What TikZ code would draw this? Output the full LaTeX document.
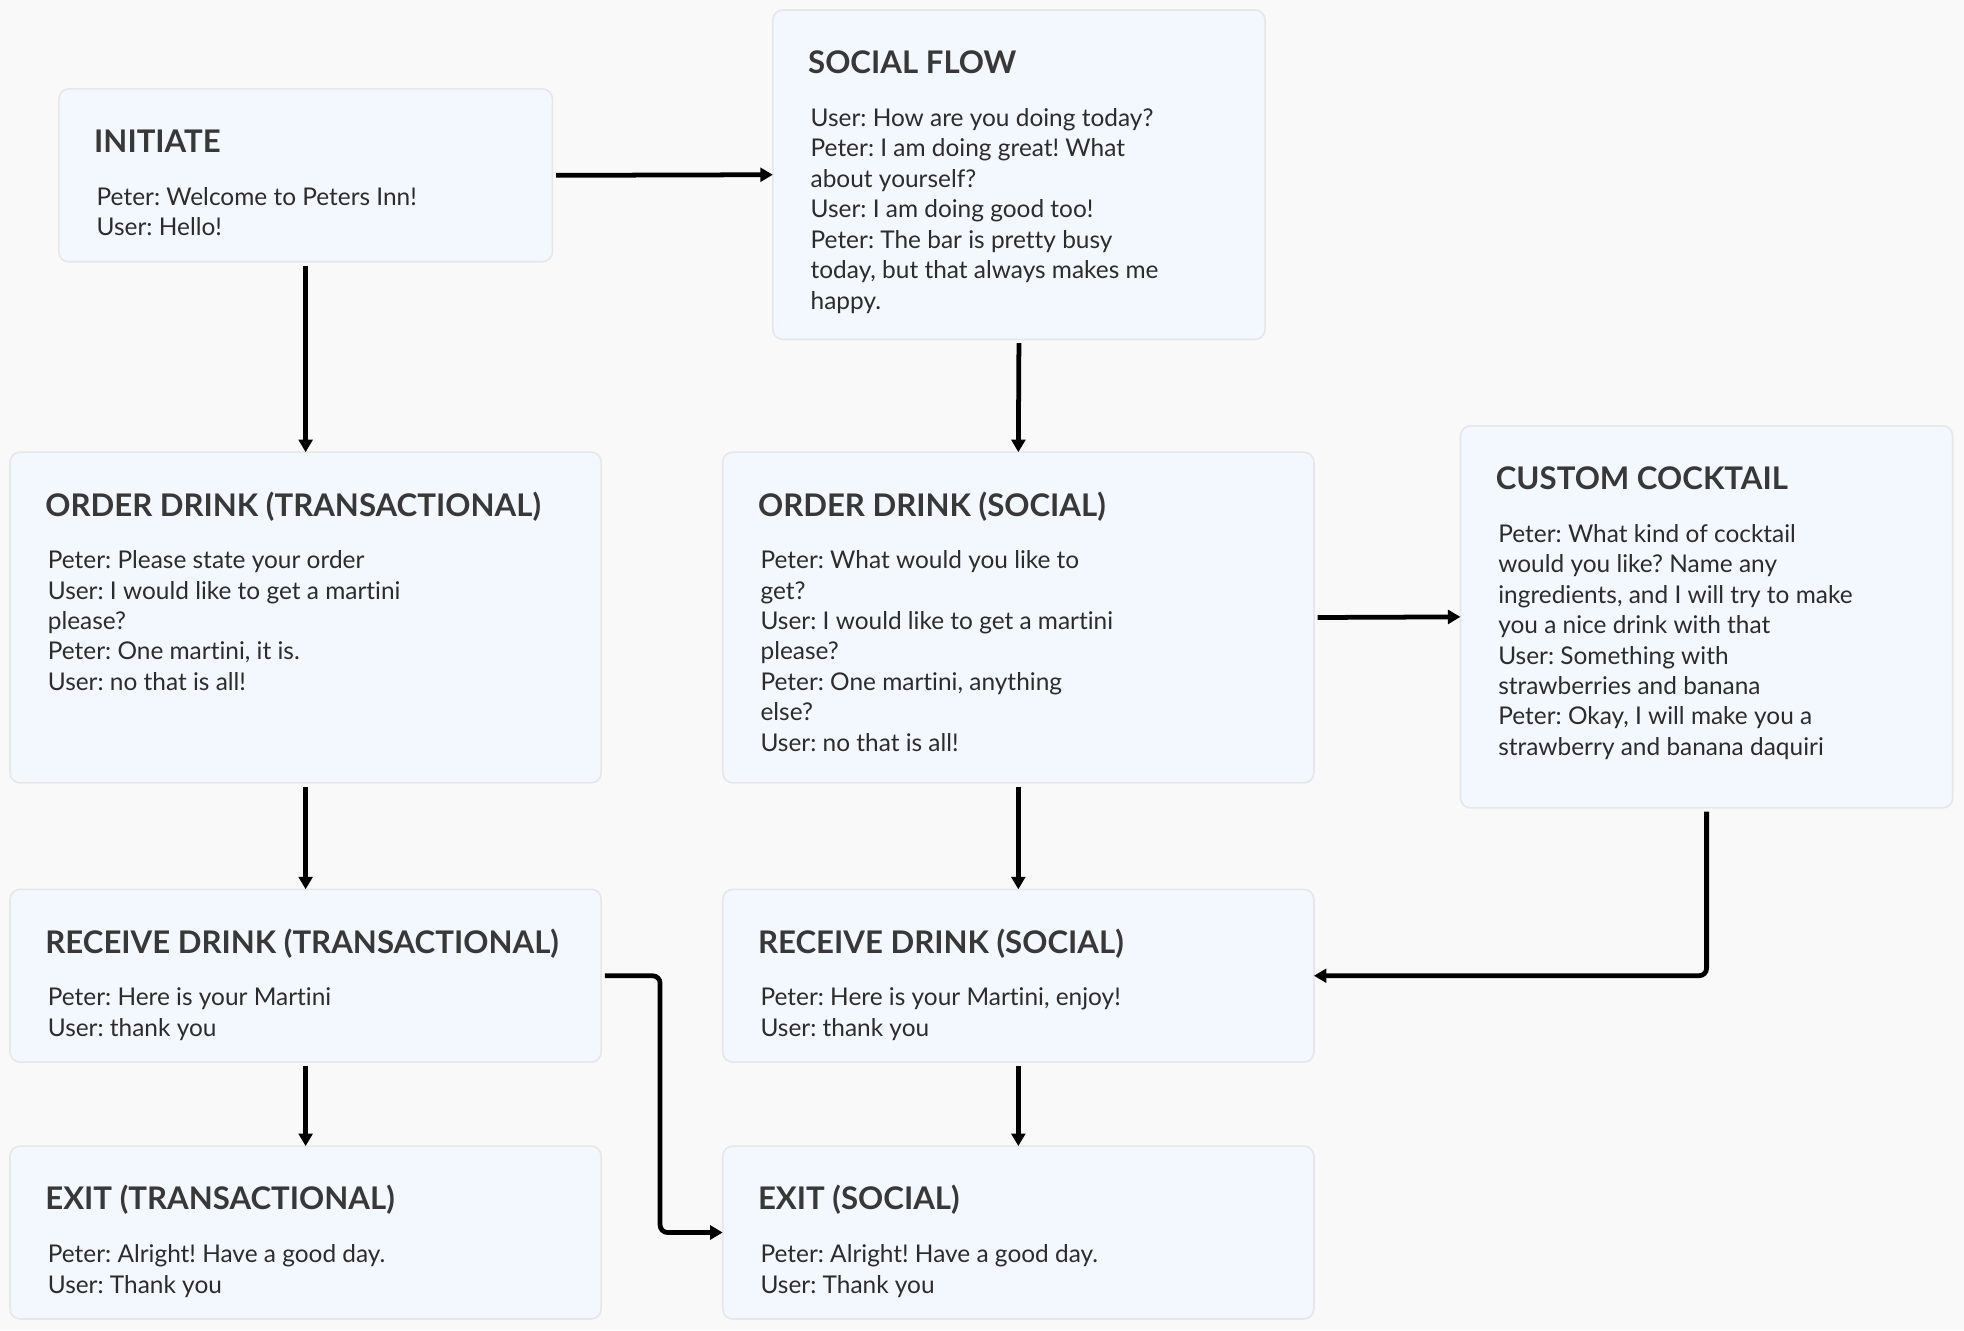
\documentclass[tikz,border=0pt]{standalone}
\usepackage{fontspec}
\setmainfont{Lato}[Ligatures=NoCommon]
\usetikzlibrary{arrows.meta}
\definecolor{bgcol}{HTML}{F9F9F9}
\definecolor{boxfill}{HTML}{F3F7FE}
\definecolor{boxline}{HTML}{E5E7EA}
\definecolor{ink}{HTML}{2C2C2C}
\definecolor{ttlink}{HTML}{383838}
\newcommand\bodyfont{\fontsize{19.5pt}{24.3pt}\selectfont}
\newcommand\ttlfont{\fontsize{24.9pt}{28pt}\selectfont\bfseries}
\tikzset{
  box/.style={draw=boxline, fill=boxfill, rounded corners=8pt, line width=1.3pt,
    anchor=north west, inner sep=0pt, outer sep=0pt},
  ttl/.style={anchor=base west, font=\ttlfont, text=ttlink, inner sep=0pt},
  bodytext/.style={anchor=north west, align=left, font=\bodyfont, text=ink, inner sep=0pt},
  conn/.style={line width=3.8pt, black, -{Triangle[length=10pt,width=11pt]},
    rounded corners=6pt, shorten <=3pt}
}
\newcommand\flowbox[7]{%
  \node[box, minimum width=#4pt, minimum height=#5pt] (#1) at (#2,#3) {};
  \node[ttl] (#1t) at ({#2+28},{#3+51}) {#6};
  \node[bodytext] (#1b) at ({#2+30},{#3+72.8}) {\rule{0pt}{20pt}#7};
}
\frenchspacing
\begin{document}
\begin{tikzpicture}[x=1pt,y=-1pt]
\fill[bgcol] (0,0) rectangle (1568,1062);
\useasboundingbox (0,0) rectangle (1568,1062);

\flowbox{init}{47}{71}{394}{138}{INITIATE}{Peter: Welcome to Peters Inn!\\User: Hello!}
\flowbox{social}{617}{8}{393}{263}{SOCIAL FLOW}{User: How are you doing today?\\Peter: I am doing great! What\\about yourself?\\User: I am doing good too!\\Peter: The bar is pretty busy\\today, but that always makes me\\happy.}
\flowbox{ordT}{8}{361}{472}{264}{ORDER DRINK (TRANSACTIONAL)}{Peter: Please state your order\\User: I would like to get a martini\\please?\\Peter: One martini, it is.\\User: no that is all!}
\flowbox{ordS}{577}{361}{472}{264}{ORDER DRINK (SOCIAL)}{Peter: What would you like to\\get?\\User: I would like to get a martini\\please?\\Peter: One martini, anything\\else?\\User: no that is all!}
\flowbox{custom}{1166}{340}{393}{305}{CUSTOM COCKTAIL}{Peter: What kind of cocktail\\would you like? Name any\\ingredients, and I will try to make\\you a nice drink with that\\User: Something with\\strawberries and banana\\Peter: Okay, I will make you a\\strawberry and banana daquiri}
\flowbox{recT}{8}{710}{472}{138}{RECEIVE DRINK (TRANSACTIONAL)}{Peter: Here is your Martini\\User: thank you}
\flowbox{recS}{577}{710}{472}{138}{RECEIVE DRINK (SOCIAL)}{Peter: Here is your Martini, enjoy!\\User: thank you}
\flowbox{exitT}{8}{915}{472}{138}{EXIT (TRANSACTIONAL)}{Peter: Alright! Have a good day.\\User: Thank you}
\flowbox{exitS}{577}{915}{472}{138}{EXIT (SOCIAL)}{Peter: Alright! Have a good day.\\User: Thank you}

\draw[conn] (init.east) -- (social.west);
\draw[conn] (init.south) -- (ordT.north);
\draw[conn] (social.south) -- (ordS.north);
\draw[conn] (ordT.south) -- (recT.north);
\draw[conn] (ordS.south) -- (recS.north);
\draw[conn] (ordS.east) -- (custom.west);
\draw[conn] (custom.south) |- (recS.east);
\draw[conn] (recT.east) -- ([xshift=47pt]recT.east) |- (exitS.west);
\draw[conn] (recT.south) -- (exitT.north);
\draw[conn] (recS.south) -- (exitS.north);
\end{tikzpicture}
\end{document}
